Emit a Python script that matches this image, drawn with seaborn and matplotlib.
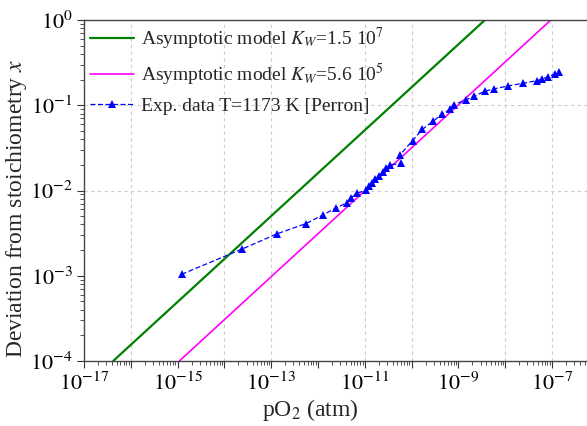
import numpy as np
import pandas as pd
import matplotlib
matplotlib.use("Agg")
import matplotlib.pyplot as plt
import matplotlib.ticker as mticker
import seaborn as sns

# ---- data ----
po2_exp = [1.22e-15, 2.4e-14, 1.33e-13, 5.6e-13, 1.3e-12, 2.4e-12, 4.2e-12, 5.1e-12,
           7.0e-12, 1.06e-11, 1.23e-11, 1.4e-11, 1.65e-11, 2.04e-11, 2.5e-11, 2.9e-11,
           3.5e-11, 6.1e-11, 5.6e-11, 1.05e-10, 1.69e-10, 2.9e-10, 4.4e-10, 6.6e-10,
           8.1e-10, 1.43e-9, 2.19e-9, 3.8e-9, 5.9e-9, 1.13e-8, 2.4e-8, 4.7e-8, 6.2e-8,
           8.2e-8, 1.16e-7, 1.43e-7]
dev_exp = [1.04e-3, 2.06e-3, 3.1e-3, 4.1e-3, 5.2e-3, 6.2e-3, 7.2e-3, 8.2e-3,
           9.3e-3, 1.01e-2, 1.14e-2, 1.24e-2, 1.35e-2, 1.49e-2, 1.66e-2, 1.82e-2,
           2.0e-2, 2.08e-2, 2.6e-2, 3.84e-2, 5.2e-2, 6.5e-2, 7.8e-2, 8.96e-2,
           0.1016, 0.115, 0.128, 0.147, 0.156, 0.168, 0.181, 0.194, 0.203,
           0.216, 0.233, 0.244]

po2_model_a = [4.2e-17, 3.7e-9]      # K_W = 1.5e7
dev_model_a = [1e-4, 1e0]
po2_model_b = [1.09e-15, 9.5e-8]     # K_W = 5.6e5
dev_model_b = [1e-4, 1e0]

label_a = r"Asymptotic model $K_W$=1.5 10$^{7}$"
label_b = r"Asymptotic model $K_W$=5.6 10$^{5}$"
label_exp = "Exp. data T=1173 K [Perron]"

grid_x = [1e-16, 1e-14, 1e-13, 1e-11, 1e-10, 1e-8, 1e-7]
grid_y = [1e-1, 1e-2]

# ---- style ----
sns.set_style("ticks")
plt.rcParams["font.family"] = ["Liberation Serif", "DejaVu Serif"]
plt.rcParams["mathtext.fontset"] = "stix"
plt.rcParams["axes.unicode_minus"] = False

fig = plt.figure(figsize=(5.87, 4.26), dpi=100)
ax = fig.add_axes([84 / 587, 1 - 361 / 426, 1 - 84 / 587, (361 - 20) / 426])

for gx in grid_x:
    ax.axvline(gx, color="#cccccc", lw=0.8, ls=(0, (3, 3)), zorder=0)
for gy in grid_y:
    ax.axhline(gy, color="#cccccc", lw=0.8, ls=(0, (3, 3)), zorder=0)

df_a = pd.DataFrame({"pO2": po2_model_a, "x": dev_model_a})
df_b = pd.DataFrame({"pO2": po2_model_b, "x": dev_model_b})
df_e = pd.DataFrame({"pO2": po2_exp, "x": dev_exp})

sns.lineplot(data=df_a, x="pO2", y="x", ax=ax, color="#008000", lw=1.6,
             label=label_a, sort=False, estimator=None)
sns.lineplot(data=df_b, x="pO2", y="x", ax=ax, color="#ff00ff", lw=1.2,
             label=label_b, sort=False, estimator=None)
sns.lineplot(data=df_e, x="pO2", y="x", ax=ax, color="#0000ff", lw=0.9,
             marker="^", markersize=5.5, markeredgewidth=0, dashes=False,
             label=label_exp, sort=False, estimator=None)
ax.lines[-1].set_linestyle((0, (4, 2)))

ax.set_xscale("log")
ax.set_yscale("log")
ax.set_xlim(1e-17, 10 ** (-6.25))
ax.set_ylim(1e-4, 1e0)

ax.xaxis.set_major_locator(mticker.LogLocator(base=10, numticks=30))
def xfmt(v, pos):
    e = int(round(np.log10(v)))
    return r"$10^{%d}$" % e if e % 2 != 0 else ""
ax.xaxis.set_major_formatter(mticker.FuncFormatter(xfmt))
ax.xaxis.set_minor_locator(mticker.LogLocator(base=10, subs=np.arange(2, 10), numticks=30))
ax.xaxis.set_minor_formatter(mticker.NullFormatter())
ax.yaxis.set_major_locator(mticker.LogLocator(base=10, numticks=10))
ax.yaxis.set_major_formatter(mticker.FuncFormatter(lambda v, p: r"$10^{%d}$" % int(round(np.log10(v)))))
ax.yaxis.set_minor_locator(mticker.LogLocator(base=10, subs=np.arange(2, 10), numticks=10))
ax.yaxis.set_minor_formatter(mticker.NullFormatter())

ax.tick_params(which="major", direction="out", length=5, width=0.8, labelsize=16, colors="#333333", labelcolor="black")
ax.tick_params(which="minor", direction="out", length=3, width=0.6, colors="#333333")
ax.tick_params(axis="x", pad=3.5)
ax.tick_params(axis="y", pad=3)

for s in ["left", "bottom", "top"]:
    ax.spines[s].set_color("#444444")
    ax.spines[s].set_linewidth(1.0)
ax.spines["right"].set_visible(False)

ax.set_xlabel(r"pO$_2$ (atm)", fontsize=17)
ax.set_ylabel(r"Deviation from stoichiometry $x$", fontsize=17)
ax.xaxis.set_label_coords((310 - 84) / (587 - 84), -(397 - 361) / 341)
ax.yaxis.set_label_coords((29 - 84) / (587 - 84), 1 - (208 - 20) / 341)

leg = ax.legend(loc="upper left", frameon=False, fontsize=14, handlelength=2.27,
                handletextpad=0.36, labelspacing=0.48, borderaxespad=0.0,
                borderpad=0.31, bbox_to_anchor=(0.0, 1.0))

fig.savefig("out.png", dpi=100)
